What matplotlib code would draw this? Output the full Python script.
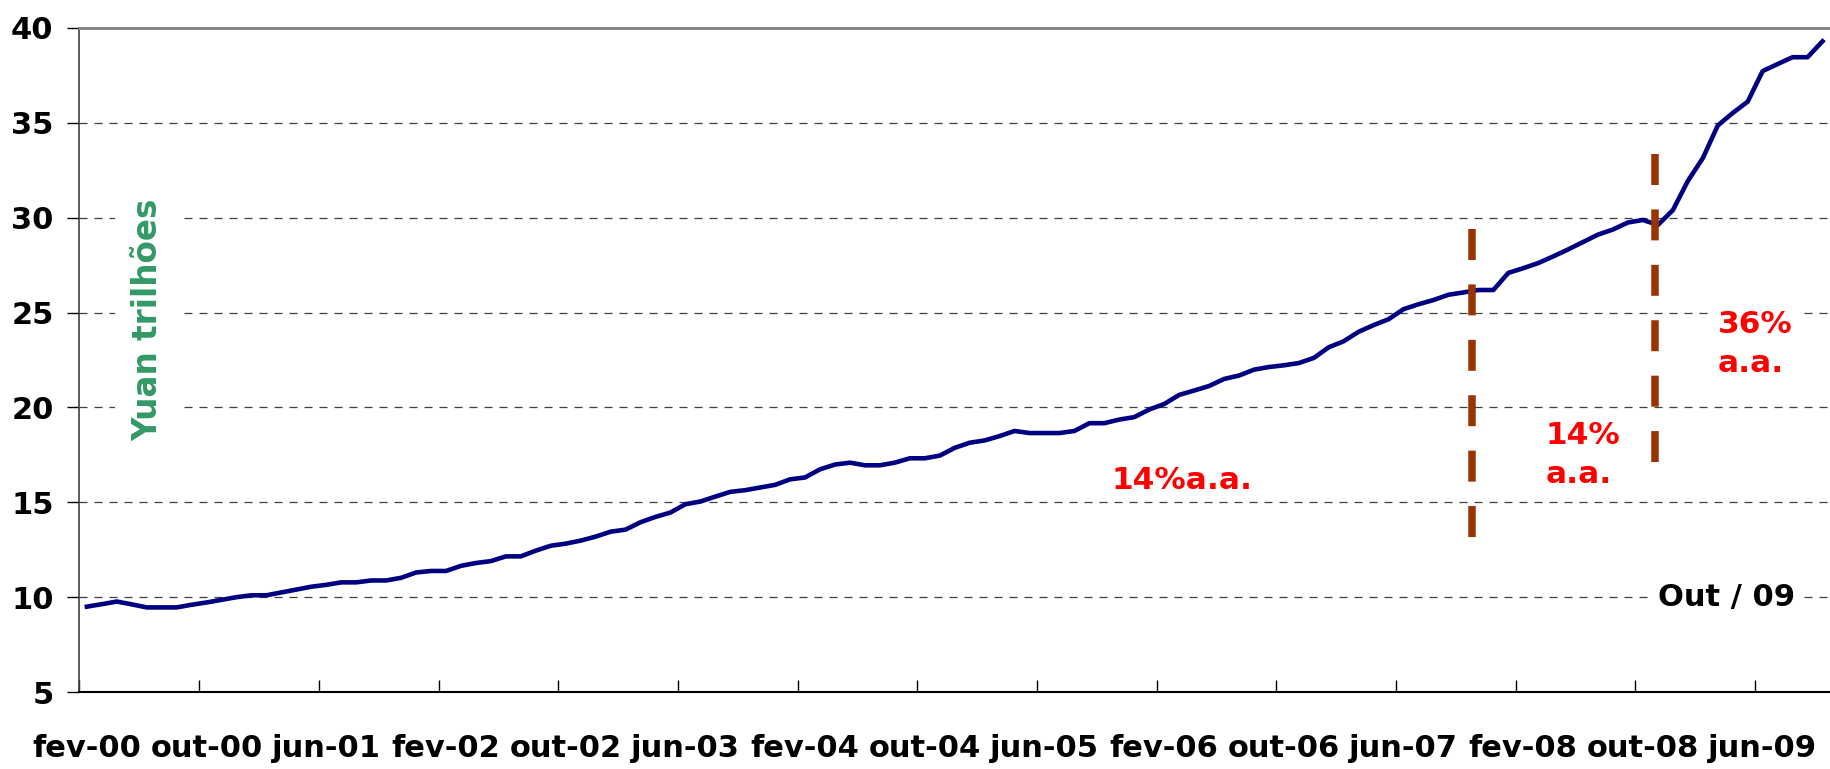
import numpy as np
import matplotlib
matplotlib.use('Agg')
import matplotlib.pyplot as plt

# monthly M2 stock (Yuan trillions), fev-00 .. out-09
values = [9.50, 9.63, 9.77, 9.62, 9.46, 9.46, 9.46, 9.60, 9.72, 9.86,
          10.00, 10.10, 10.10, 10.25, 10.40, 10.55, 10.65, 10.78, 10.78, 10.88,
          10.88, 11.02, 11.30, 11.38, 11.38, 11.65, 11.80, 11.90, 12.15, 12.15,
          12.45, 12.71, 12.82, 12.98, 13.19, 13.45, 13.56, 13.95, 14.23, 14.46,
          14.90, 15.04, 15.30, 15.55, 15.64, 15.78, 15.92, 16.21, 16.31, 16.74,
          16.99, 17.09, 16.95, 16.95, 17.09, 17.32, 17.32, 17.46, 17.87, 18.14,
          18.26, 18.49, 18.76, 18.65, 18.65, 18.65, 18.76, 19.17, 19.17, 19.36,
          19.49, 19.89, 20.18, 20.66, 20.89, 21.13, 21.50, 21.68, 21.99, 22.13,
          22.22, 22.34, 22.61, 23.17, 23.49, 23.99, 24.34, 24.65, 25.18, 25.44,
          25.66, 25.94, 26.06, 26.19, 26.19, 27.09, 27.34, 27.61, 27.96, 28.33,
          28.72, 29.11, 29.38, 29.75, 29.88, 29.62, 30.40, 31.94, 33.14, 34.86,
          35.52, 36.12, 37.73, 38.10, 38.46, 38.46, 39.30]
xlabels = ['fev-00', 'out-00', 'jun-01', 'fev-02', 'out-02', 'jun-03', 'fev-04',
           'out-04', 'jun-05', 'fev-06', 'out-06', 'jun-07', 'fev-08', 'out-08', 'jun-09']
yticks = [5, 10, 15, 20, 25, 30, 35, 40]
breaks = [92.6, 104.8]
break_spans = [(29.4, 12.95), (33.35, 16.87)]

plt.rcParams['lines.scale_dashes'] = False
fs = 22

fig = plt.figure(figsize=(18.3, 7.69), dpi=100)
ax = fig.add_axes([0.0434, 0.1001, 0.9566, 0.8635])

x = np.arange(len(values))
for y in yticks[1:-1]:
    ax.axhline(y, color='#404040', lw=0.9, ls=(0, (5.8, 5.0)), zorder=1)

ax.plot(x, values, color='#000080', lw=3.3, zorder=3)

for b, (top, bot) in zip(breaks, break_spans):
    ax.plot([b, b], [top, bot], color='#993300', lw=5.4, ls=(0, (22.3, 17.6)),
            solid_capstyle='butt', dash_capstyle='butt', zorder=4)

ax.set_xlim(-0.5, len(values) - 0.5)
ax.set_ylim(5, 40)

ax.set_yticks(yticks)
ax.set_yticklabels([str(v) for v in yticks], fontsize=fs, fontweight='bold')
ax.tick_params(axis='y', direction='out', length=8.6, width=1, pad=10, colors='black')

ax.set_xticks(np.arange(-0.5, len(values), 8))
ax.set_xticklabels([])
ax.set_xticks(np.arange(0, len(values), 8), minor=True)
ax.set_xticklabels(xlabels, minor=True, fontsize=fs, fontweight='bold')
ax.tick_params(axis='x', which='major', direction='in', length=8.6, width=1)
ax.tick_params(axis='x', which='minor', length=0, pad=30)

ax.spines['top'].set_color('#808080')
ax.spines['top'].set_linewidth(2)
ax.spines['left'].set_color('#404040')
ax.spines['left'].set_linewidth(1.2)
ax.spines['bottom'].set_color('black')
ax.spines['bottom'].set_linewidth(1.5)
ax.spines['right'].set_visible(False)

white = dict(facecolor='white', edgecolor='none')
ax.text(4.1, 24.6, 'Yuan trilhões', rotation=90, color='#339966', fontsize=23.5,
        fontweight='bold', ha='center', va='center', zorder=5,
        bbox=dict(boxstyle='square,pad=0.5', **white))
ax.text(73.2, 16.15, '14%a.a.', color='#ff0000', fontsize=22.5, fontweight='bold',
        ha='center', va='center', zorder=5)
ax.text(100.0, 17.5, '14%\na.a.', color='#ff0000', fontsize=22.5, fontweight='bold',
        ha='center', va='center', multialignment='left', linespacing=1.45, zorder=5,
        bbox=dict(boxstyle='square,pad=0.3', **white))
ax.text(111.5, 23.35, '36%\na.a.', color='#ff0000', fontsize=22.5, fontweight='bold',
        ha='center', va='center', multialignment='left', linespacing=1.45, zorder=5,
        bbox=dict(boxstyle='square,pad=0.2', **white))
ax.text(109.6, 10.0, 'Out / 09', color='black', fontsize=fs, fontweight='bold',
        ha='center', va='center', zorder=5,
        bbox=dict(boxstyle='square,pad=0.3', **white))

fig.savefig('out.png', dpi=100, facecolor='white')
